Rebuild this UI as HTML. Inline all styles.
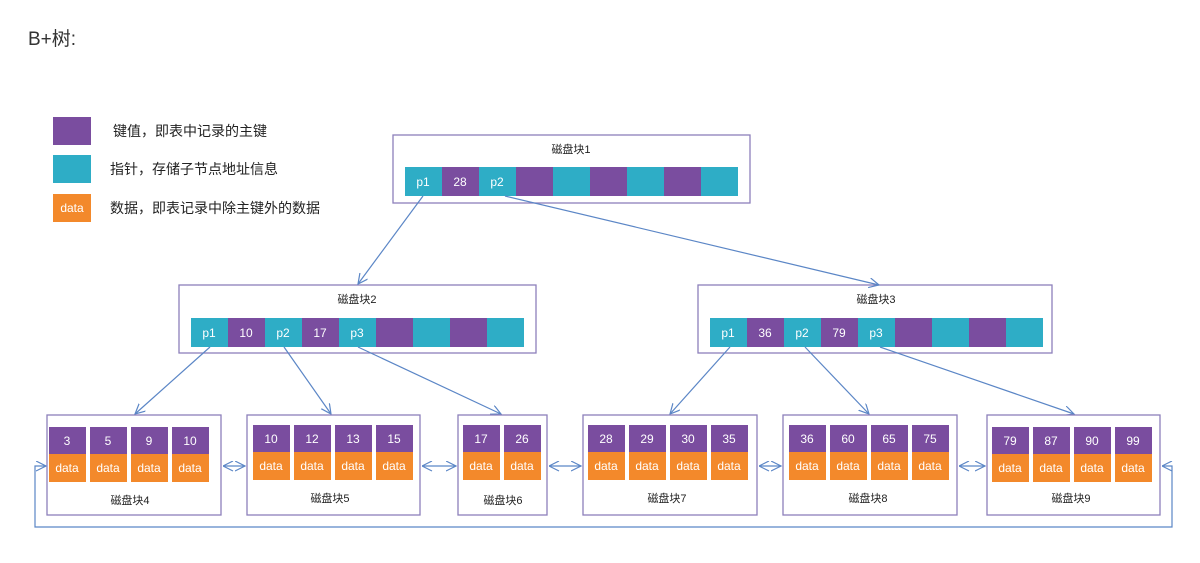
<!DOCTYPE html>
<html><head><meta charset="utf-8"><style>
html,body{margin:0;padding:0;background:#fff;}
svg{display:block;font-family:"Liberation Sans","Noto Sans CJK SC",sans-serif;}
.k{fill:#7a4d9f}.t{fill:#2eadc6}.o{fill:#f3892b}
.w{fill:#fff;font-size:12px;text-anchor:middle}
.lb{fill:#222;font-size:11px;text-anchor:middle}
.box{fill:#fff;stroke:#8d80bb;stroke-width:1.3}
.ln{stroke:#5b86c6;stroke-width:1.2;fill:none}
</style></head><body>
<svg width="1200" height="563" viewBox="0 0 1200 563">
<defs><marker id="a" markerWidth="12" markerHeight="12" refX="10" refY="5" orient="auto" markerUnits="userSpaceOnUse"><path d="M0,0 L10,5 L0,10" fill="none" stroke="#5b86c6" stroke-width="1.2"/></marker></defs>
<text x="28" y="45" font-size="19" fill="#333">B+树:</text>
<rect x="53" y="117" width="38" height="28" class="k"/>
<rect x="53" y="155" width="38" height="28" class="t"/>
<rect x="53" y="194" width="38" height="28" class="o"/>
<text x="72" y="212" class="w">data</text>
<text x="113" y="136" font-size="14" fill="#222">键值，即表中记录的主键</text>
<text x="110" y="174" font-size="14" fill="#222">指针，存储子节点地址信息</text>
<text x="110" y="213" font-size="14" fill="#222">数据，即表记录中除主键外的数据</text>

<rect x="393" y="135" width="357" height="68" class="box"/>
<text x="571" y="153" class="lb">磁盘块1</text>
<g>
<rect x="405" y="167" width="37" height="29" class="t"/><rect x="442" y="167" width="37" height="29" class="k"/><rect x="479" y="167" width="37" height="29" class="t"/><rect x="516" y="167" width="37" height="29" class="k"/><rect x="553" y="167" width="37" height="29" class="t"/><rect x="590" y="167" width="37" height="29" class="k"/><rect x="627" y="167" width="37" height="29" class="t"/><rect x="664" y="167" width="37" height="29" class="k"/><rect x="701" y="167" width="37" height="29" class="t"/>
<text x="423" y="186" class="w">p1</text><text x="460" y="186" class="w">28</text><text x="497" y="186" class="w">p2</text>
</g>

<rect x="179" y="285" width="357" height="68" class="box"/>
<text x="357" y="303" class="lb">磁盘块2</text>
<rect x="191" y="318" width="37" height="29" class="t"/><rect x="228" y="318" width="37" height="29" class="k"/><rect x="265" y="318" width="37" height="29" class="t"/><rect x="302" y="318" width="37" height="29" class="k"/><rect x="339" y="318" width="37" height="29" class="t"/><rect x="376" y="318" width="37" height="29" class="k"/><rect x="413" y="318" width="37" height="29" class="t"/><rect x="450" y="318" width="37" height="29" class="k"/><rect x="487" y="318" width="37" height="29" class="t"/>
<text x="209" y="337" class="w">p1</text><text x="246" y="337" class="w">10</text><text x="283" y="337" class="w">p2</text><text x="320" y="337" class="w">17</text><text x="357" y="337" class="w">p3</text>

<rect x="698" y="285" width="354" height="68" class="box"/>
<text x="876" y="303" class="lb">磁盘块3</text>
<rect x="710" y="318" width="37" height="29" class="t"/><rect x="747" y="318" width="37" height="29" class="k"/><rect x="784" y="318" width="37" height="29" class="t"/><rect x="821" y="318" width="37" height="29" class="k"/><rect x="858" y="318" width="37" height="29" class="t"/><rect x="895" y="318" width="37" height="29" class="k"/><rect x="932" y="318" width="37" height="29" class="t"/><rect x="969" y="318" width="37" height="29" class="k"/><rect x="1006" y="318" width="37" height="29" class="t"/>
<text x="728" y="337" class="w">p1</text><text x="765" y="337" class="w">36</text><text x="802" y="337" class="w">p2</text><text x="839" y="337" class="w">79</text><text x="876" y="337" class="w">p3</text>

<line x1="423" y1="196" x2="358" y2="284" class="ln" marker-end="url(#a)"/>
<line x1="505" y1="196" x2="879" y2="285" class="ln" marker-end="url(#a)"/>
<line x1="210" y1="347" x2="135" y2="414" class="ln" marker-end="url(#a)"/>
<line x1="284" y1="347" x2="331" y2="414" class="ln" marker-end="url(#a)"/>
<line x1="358" y1="347" x2="501" y2="414" class="ln" marker-end="url(#a)"/>
<line x1="730" y1="347" x2="670" y2="414" class="ln" marker-end="url(#a)"/>
<line x1="805" y1="347" x2="869" y2="414" class="ln" marker-end="url(#a)"/>
<line x1="880" y1="347" x2="1074" y2="414" class="ln" marker-end="url(#a)"/>

<!-- leaves -->
<rect x="47" y="415" width="174" height="100" class="box"/>
<rect x="247" y="415" width="173" height="100" class="box"/>
<rect x="458" y="415" width="89" height="100" class="box"/>
<rect x="583" y="415" width="174" height="100" class="box"/>
<rect x="783" y="415" width="174" height="100" class="box"/>
<rect x="987" y="415" width="173" height="100" class="box"/>
<text x="130" y="504" class="lb">磁盘块4</text>
<text x="330" y="502" class="lb">磁盘块5</text>
<text x="503" y="504" class="lb">磁盘块6</text>
<text x="667" y="502" class="lb">磁盘块7</text>
<text x="868" y="502" class="lb">磁盘块8</text>
<text x="1071" y="502" class="lb">磁盘块9</text>
<g>
<rect x="49" y="427" width="37" height="27" class="k"/><rect x="49" y="454" width="37" height="28" class="o"/>
<rect x="90" y="427" width="37" height="27" class="k"/><rect x="90" y="454" width="37" height="28" class="o"/>
<rect x="131" y="427" width="37" height="27" class="k"/><rect x="131" y="454" width="37" height="28" class="o"/>
<rect x="172" y="427" width="37" height="27" class="k"/><rect x="172" y="454" width="37" height="28" class="o"/>
<text x="67" y="445" class="w">3</text><text x="108" y="445" class="w">5</text><text x="149" y="445" class="w">9</text><text x="190" y="445" class="w">10</text>
<text x="67" y="472" class="w">data</text><text x="108" y="472" class="w">data</text><text x="149" y="472" class="w">data</text><text x="190" y="472" class="w">data</text>

<rect x="253" y="425" width="37" height="27" class="k"/><rect x="253" y="452" width="37" height="28" class="o"/>
<rect x="294" y="425" width="37" height="27" class="k"/><rect x="294" y="452" width="37" height="28" class="o"/>
<rect x="335" y="425" width="37" height="27" class="k"/><rect x="335" y="452" width="37" height="28" class="o"/>
<rect x="376" y="425" width="37" height="27" class="k"/><rect x="376" y="452" width="37" height="28" class="o"/>
<text x="271" y="443" class="w">10</text><text x="312" y="443" class="w">12</text><text x="353" y="443" class="w">13</text><text x="394" y="443" class="w">15</text>
<text x="271" y="470" class="w">data</text><text x="312" y="470" class="w">data</text><text x="353" y="470" class="w">data</text><text x="394" y="470" class="w">data</text>

<rect x="463" y="425" width="37" height="27" class="k"/><rect x="463" y="452" width="37" height="28" class="o"/>
<rect x="504" y="425" width="37" height="27" class="k"/><rect x="504" y="452" width="37" height="28" class="o"/>
<text x="481" y="443" class="w">17</text><text x="522" y="443" class="w">26</text>
<text x="481" y="470" class="w">data</text><text x="522" y="470" class="w">data</text>

<rect x="588" y="425" width="37" height="27" class="k"/><rect x="588" y="452" width="37" height="28" class="o"/>
<rect x="629" y="425" width="37" height="27" class="k"/><rect x="629" y="452" width="37" height="28" class="o"/>
<rect x="670" y="425" width="37" height="27" class="k"/><rect x="670" y="452" width="37" height="28" class="o"/>
<rect x="711" y="425" width="37" height="27" class="k"/><rect x="711" y="452" width="37" height="28" class="o"/>
<text x="606" y="443" class="w">28</text><text x="647" y="443" class="w">29</text><text x="688" y="443" class="w">30</text><text x="729" y="443" class="w">35</text>
<text x="606" y="470" class="w">data</text><text x="647" y="470" class="w">data</text><text x="688" y="470" class="w">data</text><text x="729" y="470" class="w">data</text>

<rect x="789" y="425" width="37" height="27" class="k"/><rect x="789" y="452" width="37" height="28" class="o"/>
<rect x="830" y="425" width="37" height="27" class="k"/><rect x="830" y="452" width="37" height="28" class="o"/>
<rect x="871" y="425" width="37" height="27" class="k"/><rect x="871" y="452" width="37" height="28" class="o"/>
<rect x="912" y="425" width="37" height="27" class="k"/><rect x="912" y="452" width="37" height="28" class="o"/>
<text x="807" y="443" class="w">36</text><text x="848" y="443" class="w">60</text><text x="889" y="443" class="w">65</text><text x="930" y="443" class="w">75</text>
<text x="807" y="470" class="w">data</text><text x="848" y="470" class="w">data</text><text x="889" y="470" class="w">data</text><text x="930" y="470" class="w">data</text>

<rect x="992" y="427" width="37" height="27" class="k"/><rect x="992" y="454" width="37" height="28" class="o"/>
<rect x="1033" y="427" width="37" height="27" class="k"/><rect x="1033" y="454" width="37" height="28" class="o"/>
<rect x="1074" y="427" width="37" height="27" class="k"/><rect x="1074" y="454" width="37" height="28" class="o"/>
<rect x="1115" y="427" width="37" height="27" class="k"/><rect x="1115" y="454" width="37" height="28" class="o"/>
<text x="1010" y="445" class="w">79</text><text x="1051" y="445" class="w">87</text><text x="1092" y="445" class="w">90</text><text x="1133" y="445" class="w">99</text>
<text x="1010" y="472" class="w">data</text><text x="1051" y="472" class="w">data</text><text x="1092" y="472" class="w">data</text><text x="1133" y="472" class="w">data</text>
</g>

<!-- links -->
<line x1="223" y1="466" x2="245" y2="466" class="ln" marker-end="url(#a)" marker-start="url(#b)"/>
<defs><marker id="b" markerWidth="12" markerHeight="12" refX="0" refY="5" orient="auto" markerUnits="userSpaceOnUse"><path d="M10,0 L0,5 L10,10" fill="none" stroke="#5b86c6" stroke-width="1.2"/></marker></defs>
<line x1="422" y1="466" x2="456" y2="466" class="ln" marker-end="url(#a)" marker-start="url(#b)"/>
<line x1="549" y1="466" x2="581" y2="466" class="ln" marker-end="url(#a)" marker-start="url(#b)"/>
<line x1="759" y1="466" x2="781" y2="466" class="ln" marker-end="url(#a)" marker-start="url(#b)"/>
<line x1="959" y1="466" x2="985" y2="466" class="ln" marker-end="url(#a)" marker-start="url(#b)"/>
<polyline points="1162,466 1172,466 1172,527 35,527 35,466 46,466" class="ln" marker-end="url(#a)" marker-start="url(#b)"/>
</svg>
</body></html>
